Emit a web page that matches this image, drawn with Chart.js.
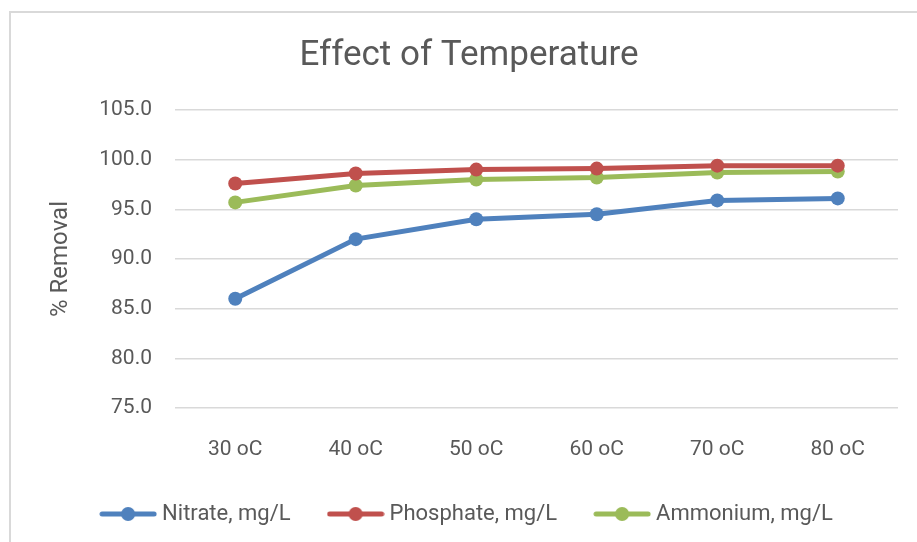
<!DOCTYPE html>
<html>
<head>
<meta charset="utf-8">
<script src="https://cdn.jsdelivr.net/npm/chart.js@4.4.1/dist/chart.umd.min.js"></script>
<style>
  html, body { margin: 0; padding: 0; background: #fff; }
  #wrap { position: relative; width: 917px; height: 542px; overflow: hidden; }
  #frame { position: absolute; left: 9px; top: 11px; width: 940px; height: 600px; border: 2px solid #d9d9d9; }
  canvas { position: absolute; left: 0; top: 0; }
</style>
</head>
<body>
<div id="wrap">
  <div id="frame"></div>
  <canvas id="tempChart" width="917" height="542"></canvas>
</div>
<script>
// categories and series
const temperatures = ["30 oC", "40 oC", "50 oC", "60 oC", "70 oC", "80 oC"];
const nitrate = [86.0, 92.0, 94.0, 94.5, 95.9, 96.1];
const phosphate = [97.6, 98.6, 99.0, 99.1, 99.4, 99.4];
const ammonium = [95.7, 97.4, 98.0, 98.2, 98.7, 98.8];
const yMin = 75;
const yMax = 105;
const yStep = 5;

const textColor = "#595959";
const font = "Roboto, sans-serif";

function legendMarker(color) {
    const c = document.createElement("canvas");
    c.width = 58;
    c.height = 18;
    const g = c.getContext("2d");
    g.strokeStyle = color;
    g.lineWidth = 5;
    g.lineCap = "round";
    g.beginPath();
    g.moveTo(3, 9);
    g.lineTo(55, 9);
    g.stroke();
    g.fillStyle = color;
    g.beginPath();
    g.arc(29, 9, 7, 0, Math.PI * 2);
    g.fill();
    return c;
}

function series(label, values, color) {
    return {
        label: label,
        data: values,
        borderColor: color,
        backgroundColor: color,
        borderWidth: 5,
        pointRadius: 7,
        pointHoverRadius: 7,
        pointBorderWidth: 0,
        tension: 0,
        markerImage: legendMarker(color)
    };
}

const ctx = document.getElementById("tempChart");

new Chart(ctx, {
    type: "line",
    data: {
        labels: temperatures,
        datasets: [
            series("Nitrate, mg/L", nitrate, "#4f81bd"),
            series("Phosphate, mg/L", phosphate, "#c0504d"),
            series("Ammonium, mg/L", ammonium, "#9bbb59")
        ]
    },
    options: {
        responsive: false,
        animation: false,
        devicePixelRatio: 1,
        layout: {
            padding: { left: 40, right: 19, top: 0, bottom: 7 }
        },
        plugins: {
            title: {
                display: true,
                text: "Effect of Temperature",
                color: textColor,
                font: { family: font, size: 35, weight: "normal" },
                padding: { top: 35, bottom: 33 }
            },
            legend: {
                position: "bottom",
                labels: {
                    color: textColor,
                    font: { family: font, size: 22 },
                    usePointStyle: true,
                    pointStyleWidth: 46,
                    padding: 42,
                    generateLabels: function (chart) {
                        return chart.data.datasets.map(function (ds, i) {
                            return {
                                text: ds.label,
                                fontColor: textColor,
                                pointStyle: ds.markerImage,
                                strokeStyle: ds.borderColor,
                                fillStyle: ds.backgroundColor,
                                lineWidth: 0,
                                hidden: false,
                                datasetIndex: i
                            };
                        });
                    }
                }
            },
            tooltip: { enabled: false }
        },
        scales: {
            x: {
                offset: true,
                grid: { display: false },
                border: { display: false },
                ticks: {
                    color: textColor,
                    font: { family: font, size: 21 },
                    padding: 21
                },
                afterFit: function (scale) { scale.height = 53; }
            },
            y: {
                min: yMin,
                max: yMax,
                grid: { color: "#d9d9d9", lineWidth: 1.5, drawTicks: false },
                border: { display: false },
                ticks: {
                    stepSize: yStep,
                    color: textColor,
                    font: { family: font, size: 21 },
                    padding: 23,
                    callback: function (v) { return Number(v).toFixed(1); }
                },
                title: {
                    display: true,
                    text: "% Removal",
                    color: textColor,
                    font: { family: font, size: 24 },
                    padding: { top: 7, bottom: 0 }
                },
                afterFit: function (scale) { scale.width = 135; }
            }
        }
    }
});
</script>
</body>
</html>
